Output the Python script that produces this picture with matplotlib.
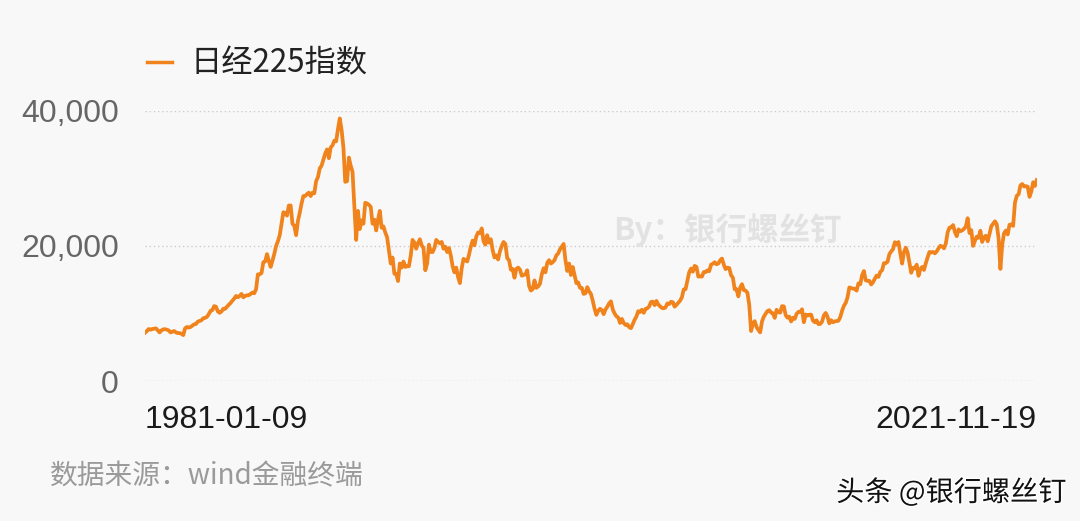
import matplotlib
matplotlib.use('Agg')
import matplotlib.pyplot as plt
import matplotlib.patheffects as pe
from matplotlib.lines import Line2D
from matplotlib.ticker import FuncFormatter
import pandas as pd

# 日经225指数, 每月一个估计值 (1981-01 ~ 2021-11)
y1981 = [7150, 7400, 7700, 7600, 7700, 7750, 7800, 7500, 7200, 7500, 7650, 7680]
y1982 = [7600, 7500, 7200, 7300, 7400, 7200, 7100, 7100, 7000, 6800, 7800, 8000]
y1983 = [7900, 8000, 8200, 8400, 8450, 8800, 8900, 9000, 9300, 9350, 9500, 9900]
y1984 = [10400, 10500, 11100, 11000, 10300, 10100, 10300, 10700, 10700, 11000, 11300, 11550]
y1985 = [11900, 12200, 12600, 12400, 12600, 12900, 12400, 12600, 12700, 12700, 12900, 13100]
y1986 = [13000, 13600, 15800, 15800, 16000, 17600, 17700, 18800, 17800, 16900, 17800, 18800]
y1987 = [20000, 20700, 21600, 23300, 25000, 24900, 24500, 26000, 26000, 23300, 23000, 21600]
y1988 = [23700, 24900, 26300, 27400, 27400, 27700, 27900, 27400, 27900, 27800, 29600, 30200]
y1989 = [31500, 31900, 32800, 33700, 34300, 33000, 34600, 34900, 35600, 35500, 37300, 38900]
y1990 = [37200, 34600, 29500, 29600, 33100, 31900, 31000, 25900, 20900, 25200, 22500, 23800]
y1991 = [23300, 26400, 26300, 26100, 25800, 23300, 23900, 22300, 23900, 25200, 22700, 22900]
y1992 = [22000, 21300, 19300, 17400, 18300, 15900, 15900, 14800, 17400, 16800, 17700, 16900]
y1993 = [17000, 17000, 18600, 20900, 20500, 19600, 20400, 21000, 20100, 19700, 16400, 17400]
y1994 = [20200, 19100, 19100, 19700, 20900, 20600, 20400, 20600, 19600, 19900, 19100, 19700]
y1995 = [18600, 17000, 16100, 16800, 15400, 14500, 16700, 18100, 17900, 17700, 18700, 19900]
y1996 = [20800, 20100, 21400, 22000, 21900, 22600, 20700, 20200, 21600, 20500, 21000, 19400]
y1997 = [18300, 18600, 18000, 19200, 20000, 20600, 20300, 18200, 17900, 16500, 16600, 15300]
y1998 = [16600, 16800, 16500, 15600, 15700, 15800, 16400, 14100, 13400, 13600, 14900, 13800]
y1999 = [14000, 14400, 15800, 16700, 16100, 17500, 17900, 17400, 17600, 17900, 18600, 18900]
y2000 = [19500, 19900, 20300, 17900, 16300, 17400, 15700, 16900, 15700, 14500, 14600, 13800]
y2001 = [13800, 12900, 13000, 13900, 13300, 12900, 11900, 10700, 9800, 10400, 10700, 10500]
y2002 = [9900, 10600, 11000, 11500, 11800, 10600, 10000, 9600, 9400, 8600, 9200, 8600]
y2003 = [8300, 8400, 7970, 7830, 8420, 9080, 9560, 10340, 10220, 10560, 10100, 10680]
y2004 = [10780, 11040, 11700, 11760, 11240, 11860, 11330, 11080, 10820, 10770, 10900, 11490]
y2005 = [11390, 11740, 11670, 11010, 11280, 11580, 11900, 12410, 13570, 13600, 14870, 16110]
y2006 = [16650, 16200, 17060, 16900, 15470, 15500, 15460, 16140, 16130, 16400, 16270, 17230]
y2007 = [17380, 17600, 17290, 17400, 17880, 18140, 17250, 16570, 16790, 16740, 15680, 15310]
y2008 = [13590, 13600, 12530, 13850, 14340, 13480, 13380, 13070, 11260, 7400, 8510, 8860]
y2009 = [7990, 7570, 7200, 8830, 9520, 9960, 10360, 10490, 10130, 10030, 9350, 10550]
y2010 = [10200, 10130, 11090, 11060, 9770, 9380, 9540, 8820, 9370, 9200, 9940, 10230]
y2011 = [10240, 10620, 8700, 9850, 9690, 9820, 9830, 8950, 8700, 8990, 8430, 8450]
y2012 = [8800, 9720, 10080, 9520, 8540, 9010, 8700, 8840, 8870, 8930, 9450, 10400]
y2013 = [11140, 11560, 12400, 13860, 13770, 13680, 13670, 13390, 14460, 14330, 15660, 16290]
y2014 = [14910, 14840, 14830, 14300, 14630, 15160, 15620, 15420, 16170, 16410, 17460, 17450]
y2015 = [17670, 18800, 19200, 19520, 20560, 20240, 20590, 18890, 17390, 19080, 19750, 19030]
y2016 = [17520, 16030, 16760, 16670, 17230, 15580, 16570, 16890, 16450, 17430, 18310, 19110]
y2017 = [19040, 19120, 18910, 19200, 19650, 20030, 19930, 19650, 20360, 22010, 22720, 22760]
y2018 = [23100, 22070, 21450, 22470, 22200, 22300, 22550, 22870, 24120, 21920, 22350, 20010]
y2019 = [20770, 21390, 21210, 22260, 20600, 21280, 21520, 20700, 21760, 22930, 23290, 23660]
y2020 = [23200, 21140, 16600, 20190, 21880, 22290, 21710, 23140, 23190, 22980, 26430, 27440]
y2021 = [27660, 28970, 29180, 28810, 28860, 28790, 27280, 28090, 29450, 28890, 29770]

values = (y1981 + y1982 + y1983 + y1984 + y1985 + y1986 + y1987 + y1988 + y1989 + y1990
          + y1991 + y1992 + y1993 + y1994 + y1995 + y1996 + y1997 + y1998 + y1999 + y2000
          + y2001 + y2002 + y2003 + y2004 + y2005 + y2006 + y2007 + y2008 + y2009 + y2010
          + y2011 + y2012 + y2013 + y2014 + y2015 + y2016 + y2017 + y2018 + y2019 + y2020
          + y2021)

start_date = '1981-01-09'
end_date = '2021-11-19'
y_ticks = [0, 20000, 40000]

dates = pd.date_range(start_date, end_date, periods=len(values))

plt.rcParams['font.family'] = ['Liberation Sans', 'Noto Sans CJK SC', 'DejaVu Sans']
cjk = ['Noto Sans CJK SC', 'DejaVu Sans']

bg = '#f8f8f8'
orange = '#f0831b'

fig = plt.figure(figsize=(10.8, 5.21), dpi=100, facecolor=bg)
ax = fig.add_axes([0.1343, 0.2687, 0.8257, 0.5183])
ax.set_facecolor(bg)

ax.plot(dates, values, color=orange, linewidth=2.7, solid_joinstyle='round')

ax.set_xlim(dates[0], dates[-1])
ax.set_ylim(0, 40000)
ax.set_yticks(y_ticks)
ax.yaxis.set_major_formatter(FuncFormatter(lambda v, p: f'{int(v):,}'))
ax.grid(axis='y', linestyle=(0, (1, 2)), color='#cccccc', linewidth=1)
ax.set_axisbelow(True)
for s in ax.spines.values():
    s.set_visible(False)
ax.tick_params(axis='y', length=0, pad=19, labelsize=23, labelcolor='#666666')

ax.set_xticks([dates[0], dates[-1]])
ax.set_xticklabels([start_date, end_date])
ax.tick_params(axis='x', length=0, pad=17, labelsize=23, labelcolor='#1a1a1a')
xl = ax.get_xticklabels()
xl[0].set_horizontalalignment('left')
xl[1].set_horizontalalignment('right')

# 图例
fig.lines.append(Line2D([147 / 1080, 172 / 1080], [1 - 62 / 521, 1 - 62 / 521],
                        transform=fig.transFigure, color=orange, linewidth=2.5))
fig.text(190 / 1080, 1 - 63 / 521, '日经225指数', fontsize=22.5, color='#222222',
         family=cjk, va='center', ha='left')

# 水印
fig.text(613 / 1080, 1 - 230 / 521, 'By：银行螺丝钉', fontsize=22.7, color='#e2e2e2',
         fontweight='bold', family=cjk, va='center', ha='left')

fig.text(50 / 1080, 1 - 476 / 521, '数据来源：wind金融终端', fontsize=20, color='#9a9a9a',
         family=cjk, va='center', ha='left')

fig.text(1067 / 1080, 1 - 493 / 521, '头条 @银行螺丝钉', fontsize=20.3, color='#111111',
         family=cjk, va='center', ha='right',
         path_effects=[pe.withStroke(linewidth=2, foreground='white')])

fig.savefig('out.png', dpi=100, facecolor=bg)
